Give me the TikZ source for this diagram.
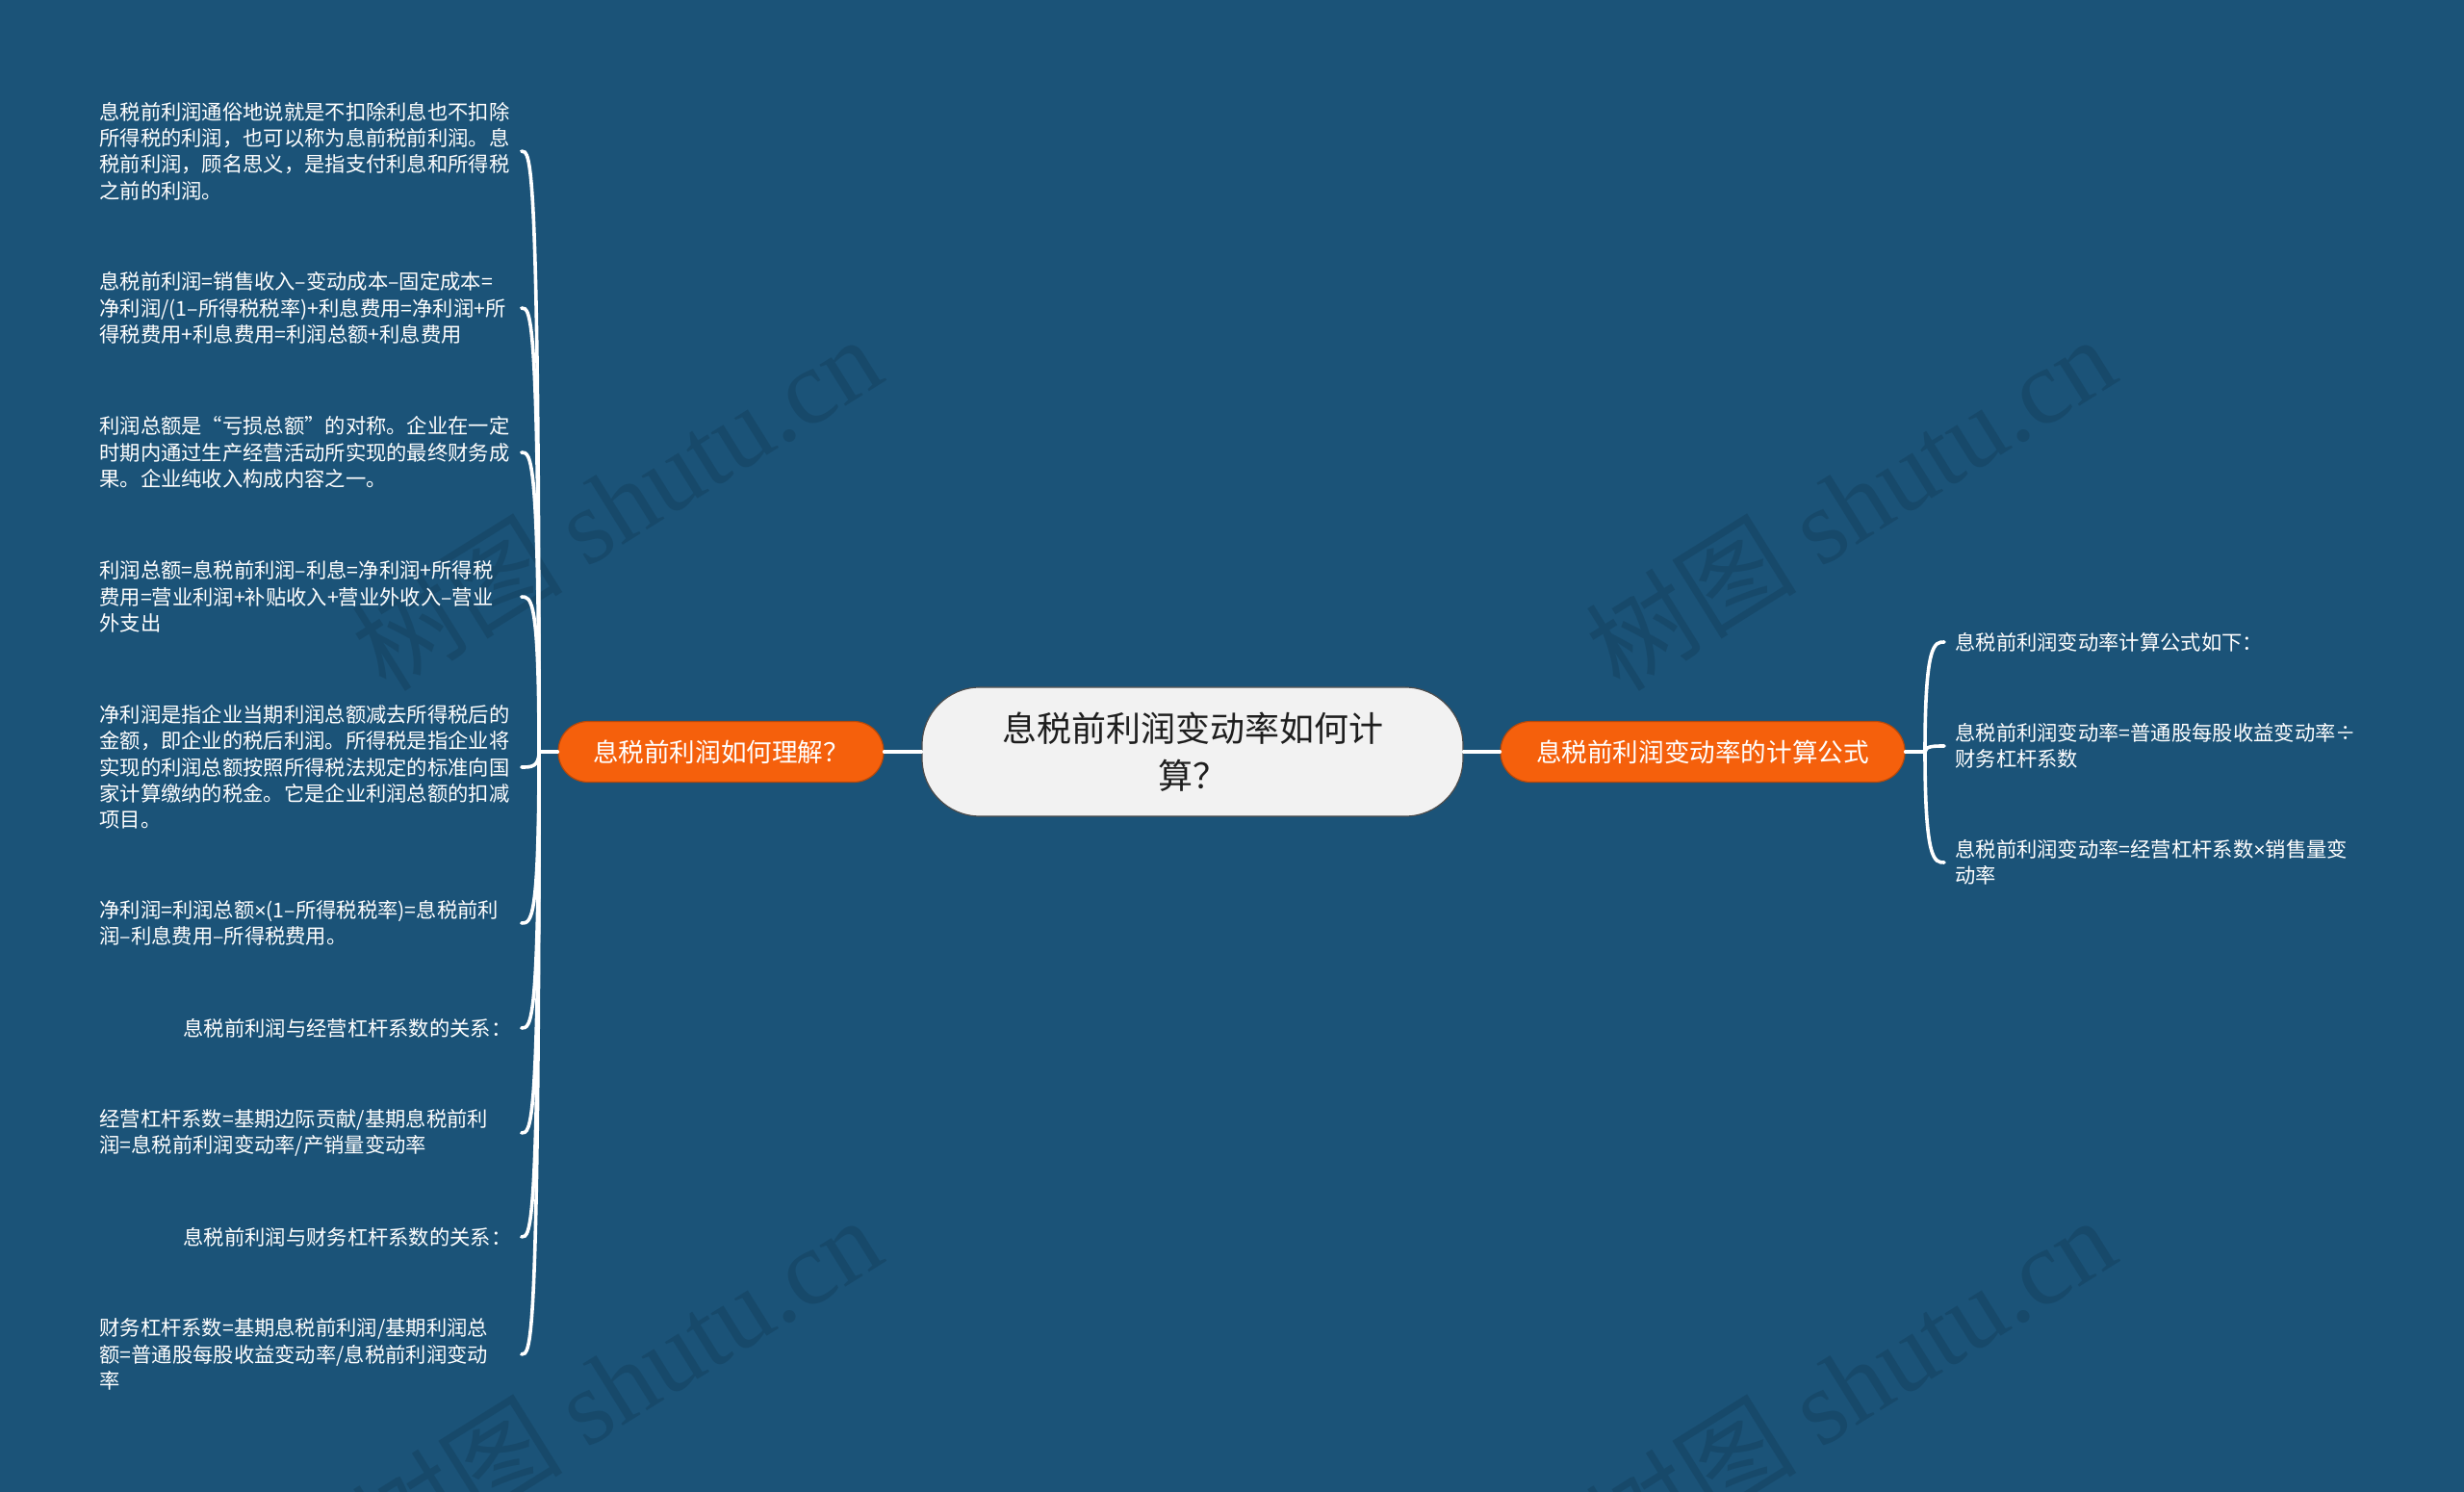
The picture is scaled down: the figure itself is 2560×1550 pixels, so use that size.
\documentclass[tikz,border=0pt]{standalone}
\usepackage{fontspec}
\setmainfont{Noto Sans CJK SC}
\newfontfamily\wmlatin{Liberation Serif}
\newfontfamily\latn{Liberation Sans}
\usetikzlibrary{calc}
\definecolor{bgc}{RGB}{27,83,120}
\definecolor{orangec}{RGB}{245,96,12}
\definecolor{centerc}{RGB}{242,242,242}
\definecolor{wmc}{RGB}{23,73,106}
\definecolor{txtc}{RGB}{30,30,30}
\newcommand\tms{{\latn ×}}
\tikzset{
  conn/.style={draw=white, line width=1.8pt, line cap=round},
  leaf/.style={text=white, font=\fontsize{10.65pt}{13.65pt}\selectfont, inner sep=0pt, text width=214pt, align=left, anchor=west},
  leafr/.style={leaf, align=right},
  rleaf/.style={leaf, text width=212pt},
  branch/.style={fill=orangec, draw=orangec!75!black, line width=0.6pt, text=white, rounded corners=15.5pt, minimum height=31.5pt, inner sep=0pt, font=\fontsize{13.3pt}{16pt}\selectfont},
  centre/.style={fill=centerc, draw=black!70, line width=0.6pt, text=txtc, rounded corners=30pt, minimum width=281pt, minimum height=67pt, inner sep=0pt, align=center, font=\fontsize{18pt}{24.5pt}\selectfont},
  wm/.style={rotate=32, text=wmc, font=\fontsize{55pt}{55pt}\selectfont}
}
\begin{document}
\begin{tikzpicture}[x=0.5pt,y=-0.5pt]
\fill[bgc] (0,0) rectangle (2560,1550);
\useasboundingbox (0,0) rectangle (2560,1550);
% watermarks
\node[wm] (w1) at (640,522) {树图 {\wmlatin shutu.cn}};
\node[wm] (w2) at (1922,522) {树图 {\wmlatin shutu.cn}};
\node[wm] (w3) at (640,1437) {树图 {\wmlatin shutu.cn}};
\node[wm] (w4) at (1922,1437) {树图 {\wmlatin shutu.cn}};
% main nodes
\node[centre] (c) at (1239,781) {息税前利润变动率如何计\\算？};
\node[branch, minimum width=169pt] (bL) at (749,781) {息税前利润如何理解？};
\node[branch, minimum width=210pt] (bR) at (1769,781) {息税前利润变动率的计算公式};
\draw[conn] (c.west) -- (bL.east);
\draw[conn] (c.east) -- (bR.west);
\coordinate (jL) at (560,781);
\coordinate (jR) at (2000,781);
\draw[conn] (bL.west) -- (jL);
\draw[conn] (bR.east) -- (jR);
% left leaves
\node[leaf] (l1) at (103,157) {息税前利润通俗地说就是不扣除利息也不扣除\\所得税的利润，也可以称为息前税前利润。息\\税前利润，顾名思义，是指支付利息和所得税\\之前的利润。};
\node[leaf] (l2) at (103,320) {息税前利润=销售收入–变动成本–固定成本=\\净利润/(1–所得税税率)+利息费用=净利润+所\\得税费用+利息费用=利润总额+利息费用};
\node[leaf] (l3) at (103,470) {利润总额是“亏损总额”的对称。企业在一定\\时期内通过生产经营活动所实现的最终财务成\\果。企业纯收入构成内容之一。};
\node[leaf] (l4) at (103,620) {利润总额=息税前利润–利息=净利润+所得税\\费用=营业利润+补贴收入+营业外收入–营业\\外支出};
\node[leaf] (l5) at (103,797) {净利润是指企业当期利润总额减去所得税后的\\金额，即企业的税后利润。所得税是指企业将\\实现的利润总额按照所得税法规定的标准向国\\家计算缴纳的税金。它是企业利润总额的扣减\\项目。};
\node[leaf] (l6) at (103,959) {净利润=利润总额\tms(1–所得税税率)=息税前利\\润–利息费用–所得税费用。};
\node[leafr] (l7) at (103,1068) {息税前利润与经营杠杆系数的关系：};
\node[leaf] (l8) at (103,1177) {经营杠杆系数=基期边际贡献/基期息税前利\\润=息税前利润变动率/产销量变动率};
\node[leafr] (l9) at (103,1285) {息税前利润与财务杠杆系数的关系：};
\node[leaf] (l10) at (103,1407) {财务杠杆系数=基期息税前利润/基期利润总\\额=普通股每股收益变动率/息税前利润变动\\率};
\foreach \n in {l1,l2,l3,l4,l5,l6,l7,l8,l9,l10}{
  \draw[conn] (jL) .. controls (jL |- \n.east) and ($(\n.east)+(20,0)$) .. ($(\n.east)+(10,0)$);
}
% right leaves
\node[rleaf] (r1) at (2031,667) {息税前利润变动率计算公式如下：};
\node[rleaf] (r2) at (2031,775) {息税前利润变动率=普通股每股收益变动率÷\\财务杠杆系数};
\node[rleaf] (r3) at (2031,896) {息税前利润变动率=经营杠杆系数\tms 销售量变\\动率};
\foreach \n in {r1,r2,r3}{
  \draw[conn] (jR) .. controls (jR |- \n.west) and ($(\n.west)+(-21,0)$) .. ($(\n.west)+(-11,0)$);
}
\end{tikzpicture}
\end{document}
